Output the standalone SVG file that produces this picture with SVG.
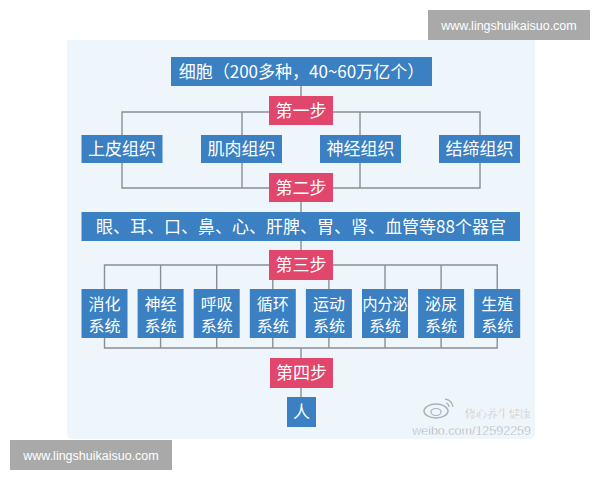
<svg xmlns="http://www.w3.org/2000/svg" width="600" height="480" viewBox="0 0 600 480">
<style>
.b{fill:#3a80c2}
.p{fill:#e1466d}
.t{fill:#fff;font-family:"Noto Sans CJK SC","Noto Sans",sans-serif;font-size:17px;text-anchor:middle}
.s{font-size:16px}
.l{stroke:#8a8f96;stroke-width:1.4;fill:none}
.wm{fill:#a9a9a9}
.wt{fill:#fff;font-family:"Liberation Sans",sans-serif;font-size:12.5px;text-anchor:middle}
.wb{font-family:"Liberation Sans","Noto Sans CJK SC",sans-serif;fill:#8f99a4;stroke:#fff;stroke-width:0.4;text-anchor:end}
</style>
<rect width="600" height="480" fill="#fff"/>
<path d="M67 40 H535 V433 Q535 439 529 439 H73 Q67 439 67 433 Z" fill="#eef6fc"/>
<g id="connectors" class="l">
<path d="M301 86V96"/>
<path d="M122 135V112H480V135M242 112V135M360 112V135"/>
<path d="M122 163V188H480V163M242 163V188M360 163V188"/>
<path d="M301 202V212M301 241V250"/>
<path d="M104.5 289V265H497.2V289M160.6 265V289M216.7 265V289M272.8 265V289M328.9 265V289M385 265V289M441.1 265V289"/>
<path d="M104.5 338V348H497.2V338M160.6 338V348M216.7 338V348M272.8 338V348M328.9 338V348M385 338V348M441.1 338V348"/>
<path d="M301 348V358M301 388V397"/>
</g>
<g id="cell"><rect class="b" x="171" y="57" width="261" height="29"/><text class="t" x="301.5" y="77.5">细胞（200多种，40~60万亿个）</text></g>
<g id="step1"><rect class="p" x="269" y="96" width="64" height="29"/><text class="t" x="301" y="116.5">第一步</text></g>
<g id="t1"><rect class="b" x="81.5" y="135" width="81" height="28"/><text class="t" x="122" y="155">上皮组织</text></g>
<g id="t2"><rect class="b" x="201" y="135" width="81" height="28"/><text class="t" x="241.5" y="155">肌肉组织</text></g>
<g id="t3"><rect class="b" x="320" y="135" width="81" height="28"/><text class="t" x="360.5" y="155">神经组织</text></g>
<g id="t4"><rect class="b" x="439" y="135" width="81" height="28"/><text class="t" x="479.5" y="155">结缔组织</text></g>
<g id="step2"><rect class="p" x="269" y="173" width="64" height="29"/><text class="t" x="301" y="193.5">第二步</text></g>
<g id="organs"><rect class="b" x="81.5" y="212" width="438.5" height="29"/><text class="t" x="301" y="232.5">眼、耳、口、鼻、心、肝脾、胃、肾、血管等88个器官</text></g>
<g id="step3"><rect class="p" x="269" y="250" width="64" height="30"/><text class="t" x="301" y="271">第三步</text></g>
<g id="s1"><rect class="b" x="81.5" y="289" width="46" height="49"/><text class="t s" x="104.5" y="309.5">消化</text><text class="t s" x="104.5" y="331.5">系统</text></g>
<g id="s2"><rect class="b" x="137.6" y="289" width="46" height="49"/><text class="t s" x="160.6" y="309.5">神经</text><text class="t s" x="160.6" y="331.5">系统</text></g>
<g id="s3"><rect class="b" x="193.7" y="289" width="46" height="49"/><text class="t s" x="216.7" y="309.5">呼吸</text><text class="t s" x="216.7" y="331.5">系统</text></g>
<g id="s4"><rect class="b" x="249.8" y="289" width="46" height="49"/><text class="t s" x="272.8" y="309.5">循环</text><text class="t s" x="272.8" y="331.5">系统</text></g>
<g id="s5"><rect class="b" x="305.9" y="289" width="46" height="49"/><text class="t s" x="328.9" y="309.5">运动</text><text class="t s" x="328.9" y="331.5">系统</text></g>
<g id="s6"><rect class="b" x="362" y="289" width="46" height="49"/><text class="t s" x="385" y="309.5" textLength="45" lengthAdjust="spacingAndGlyphs">内分泌</text><text class="t s" x="385" y="331.5">系统</text></g>
<g id="s7"><rect class="b" x="418.1" y="289" width="46" height="49"/><text class="t s" x="441.1" y="309.5">泌尿</text><text class="t s" x="441.1" y="331.5">系统</text></g>
<g id="s8"><rect class="b" x="474.2" y="289" width="46" height="49"/><text class="t s" x="497.2" y="309.5">生殖</text><text class="t s" x="497.2" y="331.5">系统</text></g>
<g id="step4"><rect class="p" x="270" y="358" width="63" height="30"/><text class="t" x="301.5" y="379">第四步</text></g>
<g id="human"><rect class="b" x="287" y="397" width="29" height="30"/><text class="t" x="301.5" y="418">人</text></g>
<g id="weibo">
<ellipse cx="436" cy="411" rx="12" ry="7" fill="none" stroke="#aab3bc" stroke-width="1.5"/>
<ellipse cx="436" cy="412" rx="5" ry="3.5" fill="none" stroke="#aab3bc" stroke-width="1.2"/>
<path d="M445 399 Q452 400 453 407 M446 403 Q449 404 449 407" fill="none" stroke="#aab3bc" stroke-width="1.3"/>
<text class="wb" x="531" y="418" font-size="11">修心养生健康</text>
<text class="wb" x="531" y="435" font-size="12.5">weibo.com/12592259</text>
</g>
<g id="wm1"><rect class="wm" x="428" y="10" width="162" height="30"/><text class="wt" x="509" y="29.5">www.lingshuikaisuo.com</text></g>
<g id="wm2"><rect class="wm" x="10" y="440" width="162" height="30"/><text class="wt" x="91" y="459.5">www.lingshuikaisuo.com</text></g>
</svg>
